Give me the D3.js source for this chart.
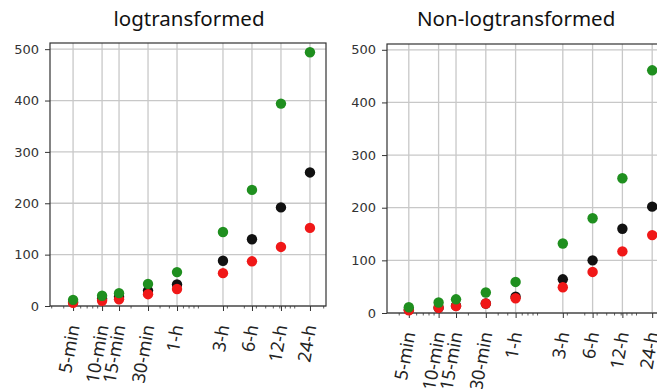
<!DOCTYPE html>
<html>
<head>
<meta charset="utf-8">
<script src="https://cdn.jsdelivr.net/npm/d3@7"></script>
<style>
body { margin: 0; background: #fff; }
svg { display: block; }
</style>
</head>
<body>
<div id="chart"></div>
<script>
// time points in minutes (log x axis)
var times = [5, 10, 15, 30, 60, 180, 360, 720, 1440];
var timeLabels = ["5-min", "10-min", "15-min", "30-min", "1-h", "3-h", "6-h", "12-h", "24-h"];
var yTicks = [0, 100, 200, 300, 400, 500];

// logtransformed panel
var logGreen = [12, 20, 25, 43, 66, 144, 226, 394, 494];
var logBlack = [8, 14, 18, 30, 42, 88, 130, 192, 260];
var logRed = [6, 10, 13, 23, 33, 64, 87, 115, 152];

// non-logtransformed panel
var rawGreen = [11, 20, 26, 39, 59, 132, 180, 256, 461];
var rawBlack = [6, 10, 14, 18, 31, 64, 100, 160, 202];
var rawRed = [5, 10, 13, 18, 28, 49, 78, 117, 148];

var width = 657, height = 389;

var svg = d3.select("#chart")
	.append("svg")
	.attr("width", width)
	.attr("height", height);

var drawPanel = function(opts) {
	var x = d3.scaleLog().domain(opts.xDomain).range([opts.left, opts.right]);
	var y = d3.scaleLinear().domain([0, opts.yMax]).range([opts.bottom, opts.top]);
	var g = svg.append("g");

	// grid
	g.selectAll(".vgrid").data(times).enter().append("line")
		.attr("x1", function(d) { return x(d); })
		.attr("x2", function(d) { return x(d); })
		.attr("y1", opts.top)
		.attr("y2", opts.bottom)
		.attr("stroke", "#c8c8c8")
		.attr("stroke-width", 1.3);
	g.selectAll(".hgrid").data(yTicks).enter().append("line")
		.attr("x1", opts.left)
		.attr("x2", opts.right)
		.attr("y1", function(d) { return y(d); })
		.attr("y2", function(d) { return y(d); })
		.attr("stroke", "#c8c8c8")
		.attr("stroke-width", 1.3);

	// minor log ticks on the bottom
	var minor = [];
	for (var k = 0; k < 4; k++) {
		for (var n = 1; n < 10; n++) {
			var v = n * Math.pow(10, k);
			if (v >= opts.xDomain[0] && v <= opts.xDomain[1] && times.indexOf(v) < 0) minor.push(v);
		}
	}
	g.selectAll(".minor").data(minor).enter().append("line")
		.attr("x1", function(d) { return x(d); })
		.attr("x2", function(d) { return x(d); })
		.attr("y1", opts.bottom)
		.attr("y2", opts.bottom + 2.5)
		.attr("stroke", "#333")
		.attr("stroke-width", 0.8);

	// y axis
	var yAxis = g.append("g")
		.attr("transform", "translate(" + opts.left + ",0)")
		.call(d3.axisLeft(y).tickValues(yTicks).tickSize(5).tickPadding(6));
	yAxis.select(".domain").remove();
	yAxis.selectAll("line").attr("stroke", "#333");
	yAxis.selectAll("text")
		.attr("fill", "#333")
		.style("font-family", "DejaVu Sans")
		.style("font-size", "13px");

	// x axis
	var xAxis = g.append("g")
		.attr("transform", "translate(0," + opts.bottom + ")")
		.call(d3.axisBottom(x).tickValues(times).tickSize(5).tickFormat(function(d, i) { return timeLabels[i]; }));
	xAxis.select(".domain").remove();
	xAxis.selectAll("line").attr("stroke", "#333");
	xAxis.selectAll("text")
		.attr("fill", "#222")
		.attr("text-anchor", "end")
		.attr("dy", null)
		.attr("y", null)
		.attr("transform", "translate(6,20) rotate(-80)")
		.style("font-family", "Noto Sans")
		.style("font-size", "18px");

	// frame
	g.append("rect")
		.attr("x", opts.left)
		.attr("y", opts.top)
		.attr("width", opts.right - opts.left)
		.attr("height", opts.bottom - opts.top)
		.attr("fill", "none")
		.attr("stroke", "#333")
		.attr("stroke-width", 1.2);

	// points: black first, then red, then green on top
	var series = [
		{ vals: opts.black, color: "#111111" },
		{ vals: opts.red, color: "#f01818" },
		{ vals: opts.green, color: "#1f8f1f" }
	];
	series.forEach(function(s) {
		g.selectAll(null).data(s.vals).enter().append("circle")
			.attr("cx", function(d, i) { return x(times[i]); })
			.attr("cy", function(d) { return y(d); })
			.attr("r", 5.2)
			.attr("fill", s.color);
	});

	svg.append("text")
		.attr("x", opts.titleX)
		.attr("y", 26)
		.attr("text-anchor", opts.titleAnchor)
		.style("font-family", "Noto Sans")
		.style("font-size", "20.5px")
		.attr("fill", "#111")
		.text(opts.title);
};

drawPanel({
	title: "logtransformed", titleX: 189, titleAnchor: "middle",
	left: 50, right: 326, top: 43, bottom: 306,
	xDomain: [2.88, 2113], yMax: 512,
	green: logGreen, black: logBlack, red: logRed
});

drawPanel({
	title: "Non-logtransformed", titleX: 417, titleAnchor: "start",
	left: 387, right: 670, top: 44, bottom: 313,
	xDomain: [3.01, 2180], yMax: 511,
	green: rawGreen, black: rawBlack, red: rawRed
});
</script>
</body>
</html>
